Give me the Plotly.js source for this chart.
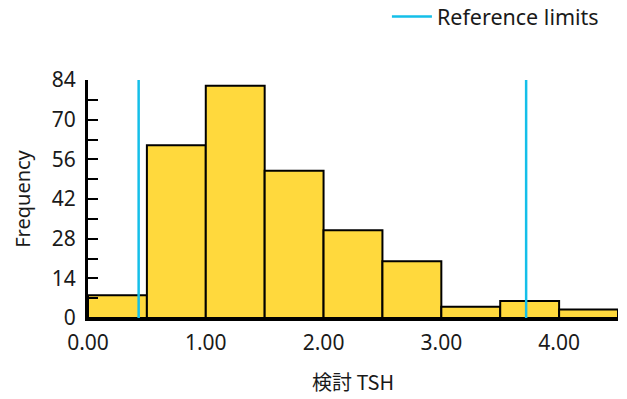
<!DOCTYPE html>
<html>
<head>
<meta charset="utf-8">
<script src="https://cdn.plot.ly/plotly-3.0.1.min.js"></script>
<style>
  html, body { margin: 0; padding: 0; background: #ffffff; }
  #chart { width: 627px; height: 399px; }
</style>
</head>
<body>
<div id="chart"></div>
<script>
// Histogram of 検討 TSH: left edge of each 0.5-wide bin and its count
const binStarts = [0.0, 0.5, 1.0, 1.5, 2.0, 2.5, 3.0, 3.5, 4.0];
const counts    = [8, 61, 82, 52, 31, 20, 4, 6, 3];
const binWidth  = 0.5;

// Lower / upper reference limits
const refLimits = [0.43, 3.72];
const refLabel  = "Reference limits";

// Axis ticks
const yTickVals  = [0, 14, 28, 42, 56, 70, 84];
const xTickVals  = [0, 1, 2, 3, 4];
const xTickTexts = ["0.00", "1.00", "2.00", "3.00", "4.00"];

const FONT = "Noto Sans, Open Sans, DejaVu Sans, sans-serif";
const INK = "#1a1a1a";

const bars = {
  type: "bar",
  x: binStarts,
  y: counts,
  width: binStarts.map(() => binWidth),
  offset: 0,
  marker: { color: "#ffd93d", line: { color: "#000000", width: 2 } },
  showlegend: false,
  hoverinfo: "x+y"
};

// Both limits drawn as one trace, separated by a gap
const refX = [], refY = [];
refLimits.forEach((v, i) => {
  if (i > 0) { refX.push(null); refY.push(null); }
  refX.push(v, v);
  refY.push(0, yTickVals[yTickVals.length - 1]);
});
const refLines = {
  type: "scatter",
  mode: "lines",
  x: refX,
  y: refY,
  name: refLabel,
  line: { color: "#14bfe9", width: 2.5 },
  connectgaps: false,
  showlegend: true
};

const layout = {
  width: 627,
  height: 399,
  margin: { l: 88, r: 9, t: 80, b: 81, autoexpand: false },
  paper_bgcolor: "#ffffff",
  plot_bgcolor: "#ffffff",
  font: { family: FONT, color: INK, size: 20 },
  bargap: 0,
  showlegend: true,
  legend: {
    x: 0.564, xanchor: "left",
    y: 1.353, yanchor: "top",
    itemwidth: 40,
    font: { family: FONT, size: 21.5, color: INK },
    bgcolor: "rgba(0,0,0,0)"
  },
  xaxis: {
    range: [0, 4.5],
    tickvals: xTickVals,
    ticktext: xTickTexts,
    ticks: "",
    ticklabelstandoff: 4,
    showgrid: false,
    zeroline: false,
    showline: true,
    linecolor: "#000000",
    linewidth: 3,
    tickfont: { family: FONT, size: 21, color: INK },
    title: { text: "検討 TSH", font: { family: "Noto Sans CJK JP, Noto Sans, sans-serif", size: 20, color: INK }, standoff: 21 }
  },
  yaxis: {
    range: [0, 84],
    tickvals: yTickVals,
    ticks: "inside",
    ticklen: 10,
    tickwidth: 2,
    tickcolor: "#000000",
    ticklabelstandoff: 5,
    minor: { dtick: 7, tick0: 0, ticks: "inside", ticklen: 10, tickwidth: 2, tickcolor: "#000000" },
    showgrid: false,
    zeroline: false,
    showline: true,
    linecolor: "#000000",
    linewidth: 3,
    tickfont: { family: FONT, size: 21, color: INK },
    title: { text: "Frequency", font: { family: FONT, size: 20, color: INK }, standoff: 16 }
  }
};

Plotly.newPlot("chart", [bars, refLines], layout, { displayModeBar: false, staticPlot: true });
</script>
</body>
</html>
